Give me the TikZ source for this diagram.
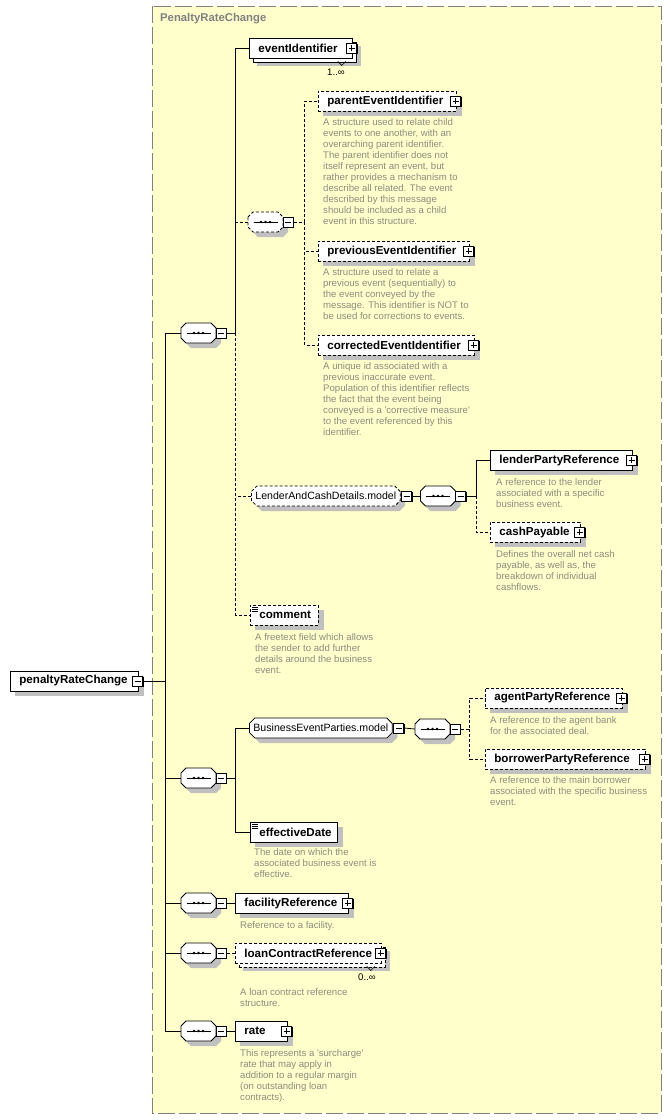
\documentclass[tikz,border=0pt]{standalone}
\usepackage{fontspec}
\setmainfont{Liberation Sans}
\usetikzlibrary{shapes.misc,shadows,calc}

\definecolor{bgyellow}{RGB}{255,255,204}
\definecolor{framegray}{RGB}{128,128,128}
\definecolor{descgray}{RGB}{140,140,125}
\definecolor{shadegray}{RGB}{192,192,192}

\pgfdeclarelayer{back}
\pgfdeclarelayer{shade}
\pgfsetlayers{back,shade,main}

\tikzset{
  shady/.style={drop shadow={shadow xshift=5pt, shadow yshift=-5pt, fill=shadegray, opacity=1}},
  el/.style={draw, fill=white, line width=0.8pt, minimum height=20pt, inner xsep=9pt, inner ysep=0pt,
    anchor=west, align=left, font=\fontsize{11.6}{13}\selectfont\bfseries},
  opt/.style={dash pattern=on 3pt off 2pt},
  stack/.style={copy shadow={shadow xshift=4pt, shadow yshift=-4pt, draw=black, fill=white, line width=0.8pt, #1}},
  stack/.default={},
  txt/.style={path picture={\foreach \i in {0,1,2}
    \draw[solid, black, line width=0.6pt] ([xshift=2pt, yshift={-2pt-2*\i pt}]path picture bounding box.north west) -- ++(6pt,0);}},
  pm/.style={draw, solid, fill=white, line width=0.7pt, minimum size=10pt, inner sep=0pt,
    drop shadow={shadow xshift=1pt, shadow yshift=-1pt, fill=black, opacity=1}},
  minus/.style={pm, path picture={\draw[black, line width=0.7pt] ([xshift=2pt]path picture bounding box.west) -- ([xshift=-2pt]path picture bounding box.east);}},
  plus/.style={pm, path picture={\draw[black, line width=0.7pt] ([xshift=2pt]path picture bounding box.west) -- ([xshift=-2pt]path picture bounding box.east)
    ([yshift=2pt]path picture bounding box.south) -- ([yshift=-2pt]path picture bounding box.north);}},
  seqcore/.style={rectangle, minimum width=35pt, minimum height=20pt, inner sep=0pt},
  seqline/.style={draw=black, fill=white, line width=0.8pt},
  grp/.style={chamfered rectangle, chamfered rectangle xsep=2pt, draw, fill=white, line width=0.8pt,
    minimum height=20pt, inner xsep=2pt, inner ysep=0pt, anchor=west, font=\fontsize{10.6}{12}\selectfont, shady},
  desc/.style={anchor=north west, inner sep=0pt, align=left, text=descgray, font=\fontsize{9.6}{11}\selectfont},
  mult/.style={inner sep=0pt, font=\fontsize{9.6}{11}\selectfont},
  con/.style={line width=0.8pt},
  optcon/.style={con, dash pattern=on 3pt off 2pt}
}

% octagon of a compositor, centred on its node
\def\octpath{(-17.5,-5) -- (-12.5,-10) -- (12.5,-10) -- (17.5,-5) -- (17.5,5) -- (12.5,10) -- (-12.5,10) -- (-17.5,5) -- cycle}
\newcommand\seqnode[3][]{%
  \node[seqcore] (#2) at (#3) {};
  \fill[shadegray, shift={(#2.center)}, xshift=5pt, yshift=-5pt] \octpath;
  \draw[seqline, #1, shift={(#2.center)}] \octpath;
  \draw[con, shift={(#2.center)}] (-12,0) -- (12,0);
  \foreach \d in {-4.5,0,4.5} \fill[black, shift={(#2.center)}] (\d,0) circle (1.4pt);
}

\begin{document}
\begin{tikzpicture}[x=1pt, y=-1pt]
\useasboundingbox (0,0) rectangle (671,1120);
\begin{pgfonlayer}{back}
\fill[bgyellow] (152,6) rectangle (661,1113);
\draw[framegray, line width=1pt, dash pattern=on 17pt off 4pt] (152,6) rectangle (661,1113);
\end{pgfonlayer}
\node[anchor=west, inner sep=0pt, text=framegray, font=\fontsize{11.3}{13}\selectfont\bfseries] (title) at (160,19) {PenaltyRateChange};

% root element
\node[el, text width=110pt] (prc) at (10,681) {penaltyRateChange};
\node[minus] (prcm) at ([xshift=-1pt]prc.east) {};

% sequences on the spine
\seqnode{sqa}{198.5,333}
\node[minus] (sqam) at ([xshift=5pt]sqa.east) {};
\seqnode{sqb}{198.5,778}
\node[minus] (sqbm) at ([xshift=5pt]sqb.east) {};
\seqnode{sqf}{198.5,903}
\node[minus] (sqfm) at ([xshift=5pt]sqf.east) {};
\seqnode{sqn}{198.5,953}
\node[minus] (sqnm) at ([xshift=5pt]sqn.east) {};
\seqnode{sqr}{198.5,1031}
\node[minus] (sqrm) at ([xshift=5pt]sqr.east) {};

% first sequence
\node[el, stack, text width=85pt] (evid) at (249,48) {eventIdentifier};
\node[plus] (evidp) at ([xshift=-1pt]evid.east) {};
\draw[line width=0.6pt] ($(evid.south east)+(-15,3)$) -- ++(4,4) -- ++(4,-4);
\node[mult] (evidn) at (336,72) {1..∞};

\seqnode[opt]{cho}{265.5,222}
\node[minus] (chom) at ([xshift=5pt]cho.east) {};
\node[el, opt, text width=120pt] (par) at (318,101) {parentEventIdentifier};
\node[plus] (parp) at ([xshift=-1pt]par.east) {};
\node[desc] (pard) at (323,118) {A structure used to relate child\\events to one another, with an\\overarching parent identifier.\\The parent identifier does not\\itself represent an event, but\\rather provides a mechanism to\\describe all related. The event\\described by this message\\should be included as a child\\event in this structure.};
\node[el, opt, text width=133pt] (prev) at (318,251) {previousEventIdentifier};
\node[plus] (prevp) at ([xshift=-1pt]prev.east) {};
\node[desc] (prevd) at (323,268) {A structure used to relate a\\previous event (sequentially) to\\the event conveyed by the\\message. This identifier is NOT to\\be used for corrections to events.};
\node[el, opt, text width=138pt] (corr) at (318,345) {correctedEventIdentifier};
\node[plus] (corrp) at ([xshift=-1pt]corr.east) {};
\node[desc] (corrd) at (323,362) {A unique id associated with a\\previous inaccurate event.\\Population of this identifier reflects\\the fact that the event being\\conveyed is a \textquotesingle corrective measure\textquotesingle\\to the event referenced by this\\identifier.};

\node[grp, opt] (lcd) at (251,496) {LenderAndCashDetails.model};
\node[minus] (lcdm) at ([xshift=6pt]lcd.east) {};
\seqnode{sql}{438,496}
\node[minus] (sqlm) at ([xshift=5pt]sql.east) {};
\node[el, text width=124pt] (lpr) at (490,460) {lenderPartyReference};
\node[plus] (lprp) at ([xshift=-1pt]lpr.east) {};
\node[desc] (lprd) at (496,478) {A reference to the lender\\associated with a specific\\business event.};
\node[el, opt, text width=72pt] (cpay) at (490,532) {cashPayable};
\node[plus] (cpayp) at ([xshift=-1pt]cpay.east) {};
\node[desc] (cpayd) at (496,550) {Defines the overall net cash\\payable, as well as, the\\breakdown of individual\\cashflows.};

\node[el, opt, txt, text width=50pt] (cmt) at (250,615) {comment};
\node[desc] (cmtd) at (255,633) {A freetext field which allows\\the sender to add further\\details around the business\\event.};

% second sequence
\node[grp] (bep) at (249,728) {BusinessEventParties.model};
\node[minus] (bepm) at ([xshift=6pt]bep.east) {};
\seqnode{sqp}{432.5,729}
\node[minus] (sqpm) at ([xshift=5pt]sqp.east) {};
\node[el, opt, text width=119pt] (apr) at (485,698) {agentPartyReference};
\node[plus] (aprp) at ([xshift=-1pt]apr.east) {};
\node[desc] (aprd) at (490,716) {A reference to the agent bank\\for the associated deal.};
\node[el, opt, text width=142pt] (bpr) at (485,759) {borrowerPartyReference};
\node[plus] (bprp) at ([xshift=-1pt]bpr.east) {};
\node[desc] (bprd) at (490,776) {A reference to the main borrower\\associated with the specific business\\event.};
\node[el, txt, text width=69pt] (efd) at (250,832) {effectiveDate};
\node[desc] (efdd) at (254,848) {The date on which the\\associated business event is\\effective.};

% remaining sequences
\node[el, text width=95pt] (fac) at (235,903) {facilityReference};
\node[plus] (facp) at ([xshift=-1pt]fac.east) {};
\node[desc] (facd) at (240,921) {Reference to a facility.};
\node[el, opt, stack={opt}, text width=128pt] (lcr) at (235,953) {loanContractReference};
\node[plus] (lcrp) at ([xshift=-1pt]lcr.east) {};
\draw[line width=0.6pt] ($(lcr.south east)+(-15,3)$) -- ++(4,4) -- ++(4,-4);
\node[mult] (lcrn) at (367,977) {0..∞};
\node[desc] (lcrd) at (240,988) {A loan contract reference\\structure.};
\node[el, text width=34pt] (rate) at (235,1031) {rate};
\node[plus] (ratep) at ([xshift=-1pt]rate.east) {};
\node[desc] (rated) at (240,1049) {This represents a \textquotesingle surcharge\textquotesingle\\rate that may apply in\\addition to a regular margin\\(on outstanding loan\\contracts).};

% shadows of the element boxes
\begin{pgfonlayer}{shade}
\foreach \n in {prc,par,prev,corr,lpr,cpay,cmt,apr,bpr,efd,fac,rate}
  \fill[shadegray] ([shift={(5,5)}]\n.north west) rectangle ([shift={(5,5)}]\n.south east);
\foreach \n in {evid,lcr}
  \fill[shadegray] ([shift={(8,8)}]\n.north west) rectangle ([shift={(8,8)}]\n.south east);
\end{pgfonlayer}

% connectors
\coordinate (sp) at (165,681);
\draw[con] (prcm.east) -- (sp);
\foreach \s in {sqa,sqb,sqf,sqn,sqr} \draw[con] (sp) |- (\s.west);

\coordinate (ja) at ([xshift=9pt]sqam.east);
\draw[con] (sqam.east) -- (ja) |- (evid.west);
\foreach \t in {cho,lcd,cmt} \draw[optcon] (ja) |- (\t.west);

\coordinate (jc) at ([xshift=11pt]chom.east);
\draw[optcon] (chom.east) -- (jc);
\foreach \t in {par,prev,corr} \draw[optcon] (jc) |- (\t.west);

\draw[con] (lcdm.east) -- (sql.west);
\coordinate (jl) at ([xshift=10pt]sqlm.east);
\draw[con] (sqlm.east) -- (jl) |- (lpr.west);
\draw[optcon] (jl) |- (cpay.west);

\coordinate (jb) at ([xshift=9pt]sqbm.east);
\draw[con] (sqbm.east) -- (jb) |- (bep.west);
\draw[con] (jb) |- (efd.west);
\draw[con] (bepm.east) -- (sqp.west);
\coordinate (jp) at ([xshift=9pt]sqpm.east);
\draw[optcon] (sqpm.east) -- (jp) |- (apr.west);
\draw[optcon] (jp) |- (bpr.west);

\draw[con] (sqfm.east) -- (fac.west);
\draw[optcon] (sqnm.east) -- (lcr.west);
\draw[con] (sqrm.east) -- (rate.west);
\end{tikzpicture}
\end{document}
